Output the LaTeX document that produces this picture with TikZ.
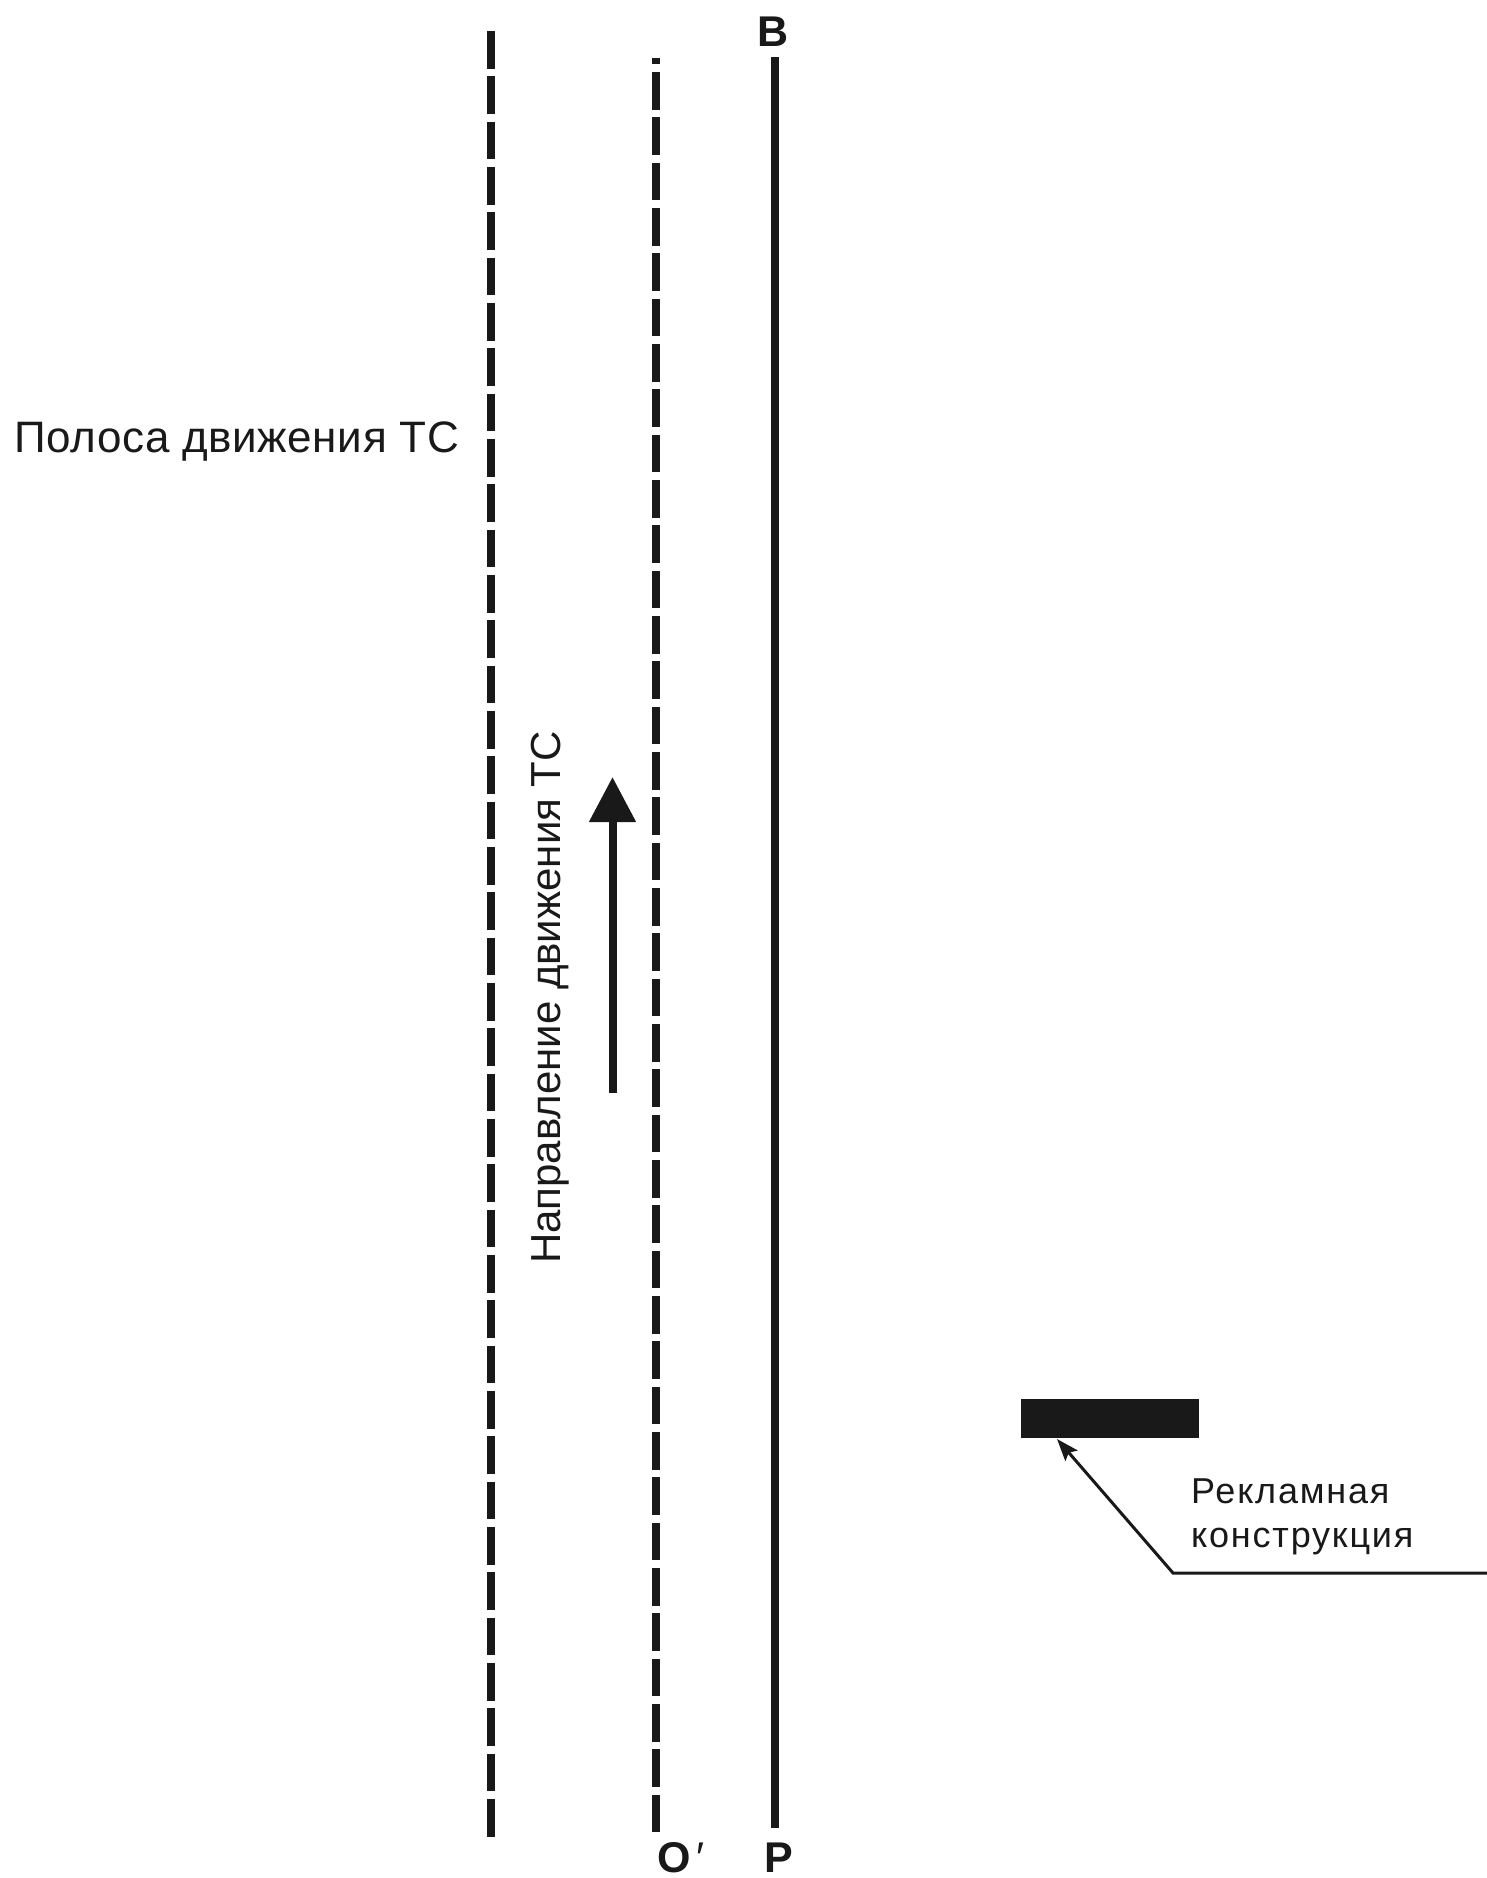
\documentclass[tikz,border=0pt]{standalone}
\usepackage{fontspec}
\setmainfont{Liberation Sans}
\usetikzlibrary{arrows.meta}
\definecolor{ink}{RGB}{24,25,24}
\begin{document}
\begin{tikzpicture}[x=1pt,y=-1pt,
  laneline/.style={draw=ink,line width=8pt,dash pattern=on 37.8pt off 7.53pt},
  edgeline/.style={draw=ink,line width=8pt},
  biglabel/.style={inner sep=0pt,text=ink,font=\fontsize{44}{50}\selectfont\addfontfeature{LetterSpace=1.4}},
  dirlabel/.style={inner sep=0pt,text=ink,font=\fontsize{42}{50}\selectfont},
  boldlabel/.style={inner sep=0pt,text=ink,font=\fontsize{43}{50}\selectfont\bfseries},
  smalllabel/.style={inner sep=0pt,text=ink,font=\fontsize{36}{44}\selectfont\addfontfeature{LetterSpace=5}},
  leader/.style={draw=ink,line width=3pt,-{Stealth[length=22pt,width=16pt,inset=4pt]}}]
\useasboundingbox[fill=white] (0,0) rectangle (1487,1878);
% lane lines
\draw[laneline] (490.5,31) -- (490.5,1837);
\draw[laneline,dash phase=31.3pt] (655.5,58) -- (655.5,1833);
\draw[edgeline] (775,57) -- (775,1828);
% labels
\node[boldlabel,anchor=base] (B) at (773,47) {B};
\node[boldlabel,anchor=base west] (O) at (657,1872) {O\kern6pt{\mdseries ′}};
\node[boldlabel,anchor=base] (P) at (779,1872) {P};
\node[biglabel,anchor=base west] (lane) at (14,452) {Полоса движения ТС};
\node[dirlabel,anchor=base west,rotate=90] (dir) at (560,1264) {Направление движения ТС};
% direction arrow
\coordinate (arrS) at (612.5,1093);
\coordinate (arrE) at (612.5,777);
\draw[draw=ink,line width=8pt,-{Triangle[length=45pt,width=45pt]}] (arrS) -- (arrE);
% billboard
\node[fill=ink,inner sep=0pt,minimum width=178pt,minimum height=39pt,anchor=north west] (bb) at (1021,1399) {};
\node[smalllabel,anchor=base west] (bbl1) at (1191,1503) {Рекламная};
\node[smalllabel,anchor=base west] (bbl2) at (1191,1547) {конструкция};
\coordinate (ldA) at (1487,1573);
\coordinate (ldB) at (1173,1573);
\coordinate (ldC) at (1057,1439);
\draw[leader] (ldA) -- (ldB) -- (ldC);
\end{tikzpicture}
\end{document}
